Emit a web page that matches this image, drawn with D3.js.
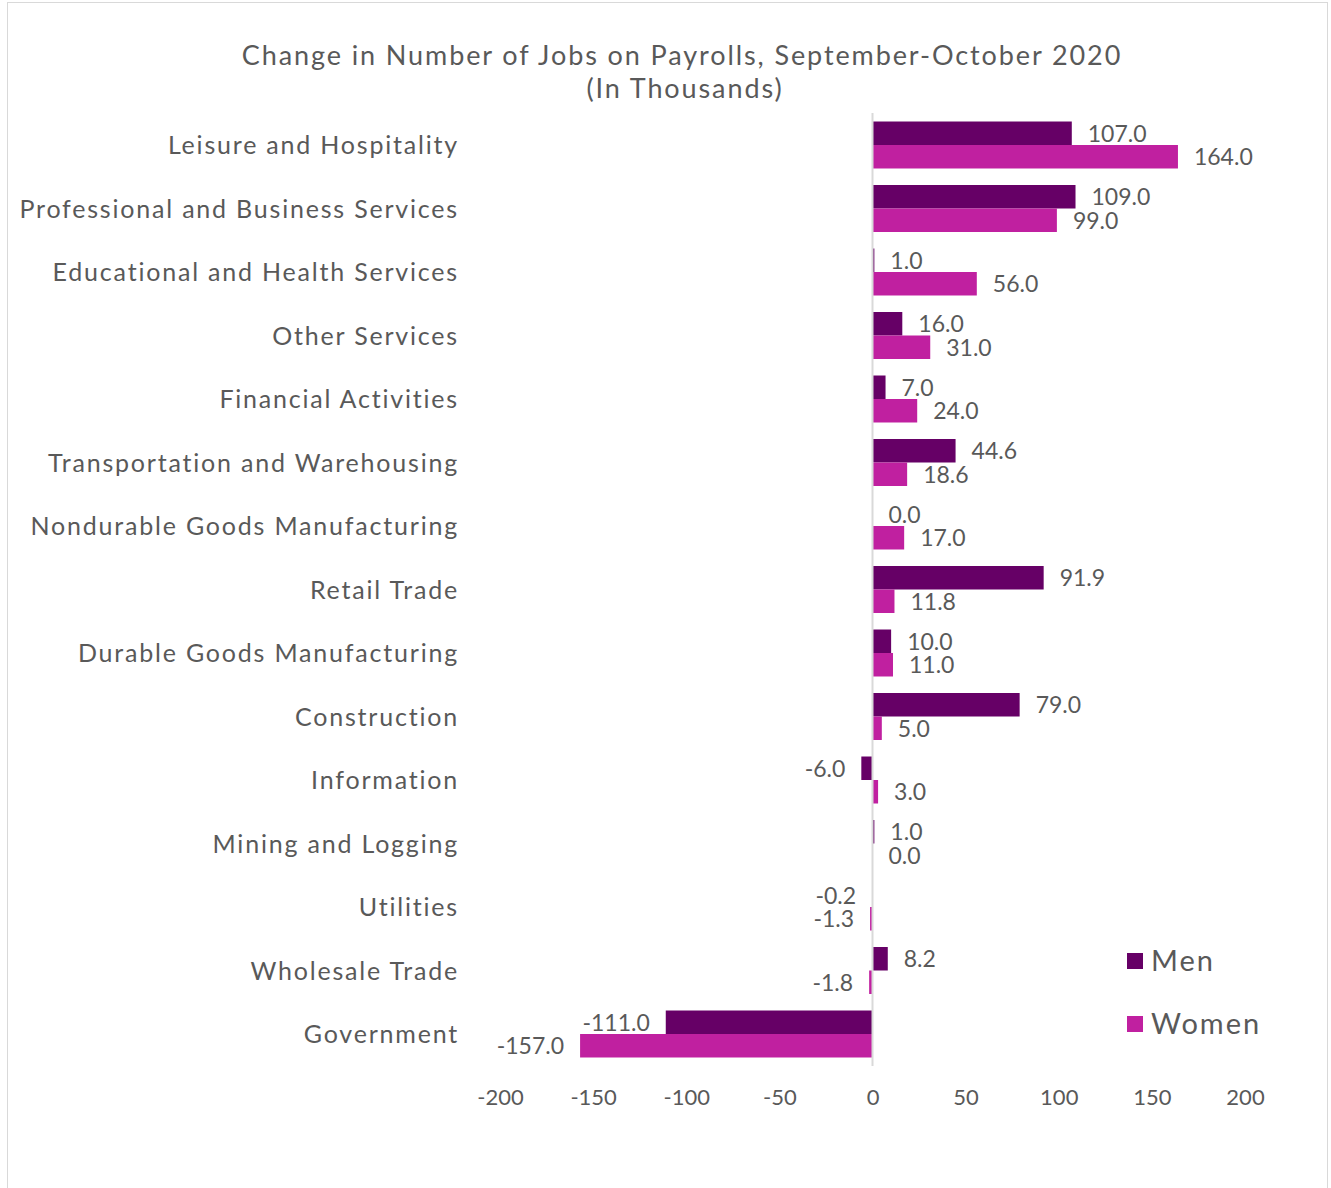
<!DOCTYPE html>
<html>
<head>
<meta charset="utf-8">
<script src="https://cdn.jsdelivr.net/npm/d3@7"></script>
<style>
  body { margin: 0; background: #fff; }
  svg text { font-family: "Lato", "DejaVu Sans", sans-serif; fill: #595959; }
</style>
</head>
<body>
<div id="chart"></div>
<script>
// data
var categories = ["Leisure and Hospitality", "Professional and Business Services",
  "Educational and Health Services", "Other Services", "Financial Activities",
  "Transportation and Warehousing", "Nondurable Goods Manufacturing", "Retail Trade",
  "Durable Goods Manufacturing", "Construction", "Information", "Mining and Logging",
  "Utilities", "Wholesale Trade", "Government"];
var men   = [107.0, 109.0, 1.0, 16.0, 7.0, 44.6, 0.0, 91.9, 10.0, 79.0, -6.0, 1.0, -0.2, 8.2, -111.0];
var women = [164.0, 99.0, 56.0, 31.0, 24.0, 18.6, 17.0, 11.8, 11.0, 5.0, 3.0, 0.0, -1.3, -1.8, -157.0];
var seriesNames = ["Men", "Women"];
var seriesColors = ["#660066", "#C020A0"];
var xTicks = [-200, -150, -100, -50, 0, 50, 100, 150, 200];

var width = 1331, height = 1188;

// plain hyphen for negatives, like the original
var locale = d3.formatLocale({ decimal: ".", thousands: ",", grouping: [3], currency: ["", ""], minus: "-" });
var fmt = locale.format(".1f");
var tickFmt = locale.format("d");

var svg = d3.select("#chart")
  .append("svg")
    .attr("width", width)
    .attr("height", height);

// chart border
svg.append("rect")
  .attr("x", 7.5).attr("y", 2.5)
  .attr("width", 1320).attr("height", 1200)
  .attr("fill", "none")
  .attr("stroke", "#d9d9d9");

// title
svg.append("text")
  .attr("x", 682).attr("y", 65)
  .attr("text-anchor", "middle")
  .attr("font-size", "27px")
  .attr("letter-spacing", "1.9px")
  .text("Change in Number of Jobs on Payrolls, September-October 2020");
svg.append("text")
  .attr("x", 685).attr("y", 98)
  .attr("text-anchor", "middle")
  .attr("font-size", "27px")
  .attr("letter-spacing", "1.9px")
  .text("(In Thousands)");

var x = d3.scaleLinear()
  .domain([-200, 200])
  .range([500, 1245]);

var y = d3.scaleBand()
  .domain(categories)
  .range([113.25, 1065.75])
  .paddingInner(0.26)
  .paddingOuter(0.13);

var ySub = d3.scaleBand()
  .domain(seriesNames)
  .range([0, y.bandwidth()]);

var rows = categories.map(function(c, i) {
  return { cat: c, values: [{ s: "Men", v: men[i] }, { s: "Women", v: women[i] }] };
});

var groups = svg.append("g")
  .selectAll("g")
  .data(rows)
  .enter()
  .append("g")
    .attr("transform", function(d) { return "translate(0," + y(d.cat) + ")"; });

groups.selectAll("rect")
  .data(function(d) { return d.values; })
  .enter()
  .append("rect")
    .attr("x", function(d) { return x(Math.min(0, d.v)); })
    .attr("y", function(d) { return ySub(d.s); })
    .attr("width", function(d) { return Math.abs(x(d.v) - x(0)); })
    .attr("height", ySub.bandwidth())
    .attr("fill", function(d) { return seriesColors[seriesNames.indexOf(d.s)]; });

groups.selectAll("text")
  .data(function(d) { return d.values; })
  .enter()
  .append("text")
    .attr("x", function(d) { return d.v < 0 ? x(d.v) - 16 : x(d.v) + 16; })
    .attr("y", function(d) { return ySub(d.s) + ySub.bandwidth() / 2; })
    .attr("dy", "0.36em")
    .attr("text-anchor", function(d) { return d.v < 0 ? "end" : "start"; })
    .attr("font-size", "23px")
    .text(function(d) { return fmt(d.v); });

// zero line
svg.append("line")
  .attr("x1", x(0)).attr("x2", x(0))
  .attr("y1", 113).attr("y2", 1066)
  .attr("stroke", "#d9d9d9")
  .attr("stroke-width", 2);

// category labels
svg.append("g")
  .selectAll("text")
  .data(categories)
  .enter()
  .append("text")
    .attr("x", 459)
    .attr("y", function(d) { return y(d) + y.bandwidth() / 2; })
    .attr("dy", "0.36em")
    .attr("text-anchor", "end")
    .attr("font-size", "25px")
    .attr("letter-spacing", "1.8px")
    .text(function(d) { return d; });

// x axis
var xAxis = svg.append("g")
  .attr("transform", "translate(0,1090)")
  .call(d3.axisBottom(x).tickValues(xTicks).tickFormat(tickFmt).tickSize(0).tickPadding(0));
xAxis.select(".domain").remove();
xAxis.selectAll("text")
  .attr("font-size", "22px")
  .attr("font-family", null)
  .attr("fill", null)
  .attr("dy", "0.7em");

// legend
var legend = svg.append("g")
  .selectAll("g")
  .data(seriesNames)
  .enter()
  .append("g")
    .attr("transform", function(d, i) { return "translate(1127," + (961 + i * 63) + ")"; });
legend.append("rect")
  .attr("x", 0).attr("y", -8)
  .attr("width", 16).attr("height", 16)
  .attr("fill", function(d, i) { return seriesColors[i]; });
legend.append("text")
  .attr("x", 24).attr("y", 0)
  .attr("dy", "0.36em")
  .attr("font-size", "29px")
  .attr("letter-spacing", "2px")
  .text(function(d) { return d; });
</script>
</body>
</html>
